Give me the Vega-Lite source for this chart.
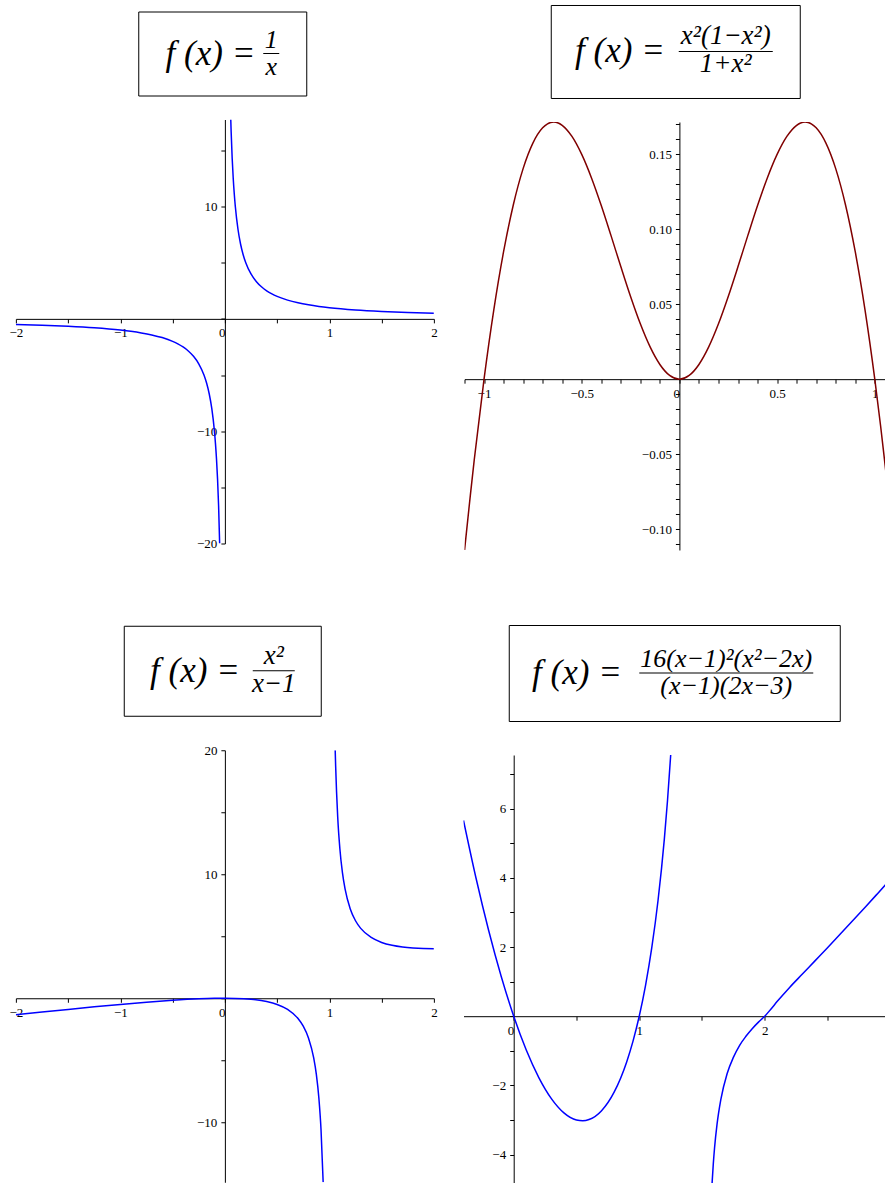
{
  "$schema": "https://vega.github.io/schema/vega-lite/v6.json",
  "background": "white",
  "padding": {"left": 8.5, "top": 3.5, "right": 0, "bottom": 0},
  "config": {
    "view": {"stroke": null},
    "font": "Liberation Serif, Times New Roman, serif",
    "axis": {
      "grid": false, "title": null,
      "domainColor": "#000", "domainWidth": 1,
      "tickColor": "#000", "tickWidth": 1, "tickSize": 4,
      "labelFont": "Liberation Serif, Times New Roman, serif", "labelColor": "#000",
      "labelPadding": 4, "labelFlush": false, "labelOverlap": false, "labelBound": false
    },
    "text": {"font": "Liberation Serif, Times New Roman, serif", "fontStyle": "italic", "color": "#000"}
  },
  "datasets": {
    "recip": [
      {"x": -2, "y": -0.5, "branch": "left"}, {"x": -1.75, "y": -0.5714, "branch": "left"},
      {"x": -1.5, "y": -0.6667, "branch": "left"}, {"x": -1.25, "y": -0.8, "branch": "left"},
      {"x": -1, "y": -1, "branch": "left"}, {"x": -0.9, "y": -1.1111, "branch": "left"},
      {"x": -0.8, "y": -1.25, "branch": "left"}, {"x": -0.7, "y": -1.4286, "branch": "left"},
      {"x": -0.6, "y": -1.6667, "branch": "left"}, {"x": -0.5, "y": -2, "branch": "left"},
      {"x": -0.45, "y": -2.2222, "branch": "left"}, {"x": -0.4, "y": -2.5, "branch": "left"},
      {"x": -0.35, "y": -2.8571, "branch": "left"}, {"x": -0.3, "y": -3.3333, "branch": "left"},
      {"x": -0.25, "y": -4, "branch": "left"}, {"x": -0.2, "y": -5, "branch": "left"},
      {"x": -0.175, "y": -5.7143, "branch": "left"}, {"x": -0.15, "y": -6.6667, "branch": "left"},
      {"x": -0.125, "y": -8, "branch": "left"}, {"x": -0.1, "y": -10, "branch": "left"},
      {"x": -0.09, "y": -11.111, "branch": "left"}, {"x": -0.08, "y": -12.5, "branch": "left"},
      {"x": -0.07, "y": -14.286, "branch": "left"}, {"x": -0.06, "y": -16.667, "branch": "left"},
      {"x": -0.05, "y": -20, "branch": "left"},
      {"x": 0.05634, "y": 17.75, "branch": "right"}, {"x": 0.06, "y": 16.667, "branch": "right"},
      {"x": 0.07, "y": 14.286, "branch": "right"}, {"x": 0.08, "y": 12.5, "branch": "right"},
      {"x": 0.09, "y": 11.111, "branch": "right"}, {"x": 0.1, "y": 10, "branch": "right"},
      {"x": 0.125, "y": 8, "branch": "right"}, {"x": 0.15, "y": 6.6667, "branch": "right"},
      {"x": 0.175, "y": 5.7143, "branch": "right"}, {"x": 0.2, "y": 5, "branch": "right"},
      {"x": 0.25, "y": 4, "branch": "right"}, {"x": 0.3, "y": 3.3333, "branch": "right"},
      {"x": 0.35, "y": 2.8571, "branch": "right"}, {"x": 0.4, "y": 2.5, "branch": "right"},
      {"x": 0.45, "y": 2.2222, "branch": "right"}, {"x": 0.5, "y": 2, "branch": "right"},
      {"x": 0.6, "y": 1.6667, "branch": "right"}, {"x": 0.7, "y": 1.4286, "branch": "right"},
      {"x": 0.8, "y": 1.25, "branch": "right"}, {"x": 0.9, "y": 1.1111, "branch": "right"},
      {"x": 1, "y": 1, "branch": "right"}, {"x": 1.25, "y": 0.8, "branch": "right"},
      {"x": 1.5, "y": 0.6667, "branch": "right"}, {"x": 1.75, "y": 0.5714, "branch": "right"},
      {"x": 2, "y": 0.5, "branch": "right"}
    ],
    "quartic": [
      {"x": -1.0996, "y": -0.114}, {"x": -1.07, "y": -0.077344}, {"x": -1.05, "y": -0.053748},
      {"x": -1, "y": 0}, {"x": -0.95, "y": 0.046252}, {"x": -0.9, "y": 0.085028},
      {"x": -0.85, "y": 0.116397}, {"x": -0.8, "y": 0.140488}, {"x": -0.75, "y": 0.1575},
      {"x": -0.7, "y": 0.167718}, {"x": -0.675, "y": 0.170395}, {"x": -0.6436, "y": 0.171573},
      {"x": -0.62, "y": 0.170932}, {"x": -0.6, "y": 0.169412}, {"x": -0.55, "y": 0.161991},
      {"x": -0.5, "y": 0.15}, {"x": -0.45, "y": 0.134299}, {"x": -0.4, "y": 0.115862},
      {"x": -0.35, "y": 0.095763}, {"x": -0.3, "y": 0.075138}, {"x": -0.25, "y": 0.055147},
      {"x": -0.2, "y": 0.036923}, {"x": -0.15, "y": 0.02151}, {"x": -0.1, "y": 0.009802},
      {"x": -0.05, "y": 0.002488}, {"x": 0, "y": 0},
      {"x": 0.05, "y": 0.002488}, {"x": 0.1, "y": 0.009802}, {"x": 0.15, "y": 0.02151},
      {"x": 0.2, "y": 0.036923}, {"x": 0.25, "y": 0.055147}, {"x": 0.3, "y": 0.075138},
      {"x": 0.35, "y": 0.095763}, {"x": 0.4, "y": 0.115862}, {"x": 0.45, "y": 0.134299},
      {"x": 0.5, "y": 0.15}, {"x": 0.55, "y": 0.161991}, {"x": 0.6, "y": 0.169412},
      {"x": 0.62, "y": 0.170932}, {"x": 0.6436, "y": 0.171573}, {"x": 0.675, "y": 0.170395},
      {"x": 0.7, "y": 0.167718}, {"x": 0.75, "y": 0.1575}, {"x": 0.8, "y": 0.140488},
      {"x": 0.85, "y": 0.116397}, {"x": 0.9, "y": 0.085028}, {"x": 0.95, "y": 0.046252},
      {"x": 1, "y": 0}, {"x": 1.03, "y": -0.031434}, {"x": 1.06, "y": -0.065397}
    ],
    "rational": [
      {"x": -2, "y": -1.3333, "branch": "left"}, {"x": -1.75, "y": -1.1136, "branch": "left"},
      {"x": -1.5, "y": -0.9, "branch": "left"}, {"x": -1.25, "y": -0.6944, "branch": "left"},
      {"x": -1, "y": -0.5, "branch": "left"}, {"x": -0.75, "y": -0.3214, "branch": "left"},
      {"x": -0.5, "y": -0.1667, "branch": "left"}, {"x": -0.25, "y": -0.05, "branch": "left"},
      {"x": -0.1, "y": -0.0091, "branch": "left"}, {"x": 0, "y": 0, "branch": "left"},
      {"x": 0.1, "y": -0.0111, "branch": "left"}, {"x": 0.25, "y": -0.0833, "branch": "left"},
      {"x": 0.4, "y": -0.2667, "branch": "left"}, {"x": 0.5, "y": -0.5, "branch": "left"},
      {"x": 0.6, "y": -0.9, "branch": "left"}, {"x": 0.7, "y": -1.6333, "branch": "left"},
      {"x": 0.75, "y": -2.25, "branch": "left"}, {"x": 0.8, "y": -3.2, "branch": "left"},
      {"x": 0.85, "y": -4.8167, "branch": "left"}, {"x": 0.875, "y": -6.125, "branch": "left"},
      {"x": 0.9, "y": -8.1, "branch": "left"}, {"x": 0.92, "y": -10.58, "branch": "left"},
      {"x": 0.9406, "y": -14.84, "branch": "left"},
      {"x": 1.0557, "y": 20, "branch": "right"}, {"x": 1.06, "y": 18.7267, "branch": "right"},
      {"x": 1.08, "y": 14.58, "branch": "right"}, {"x": 1.1, "y": 12.1, "branch": "right"},
      {"x": 1.125, "y": 10.125, "branch": "right"}, {"x": 1.15, "y": 8.8167, "branch": "right"},
      {"x": 1.2, "y": 7.2, "branch": "right"}, {"x": 1.25, "y": 6.25, "branch": "right"},
      {"x": 1.3, "y": 5.6333, "branch": "right"}, {"x": 1.4, "y": 4.9, "branch": "right"},
      {"x": 1.5, "y": 4.5, "branch": "right"}, {"x": 1.6, "y": 4.2667, "branch": "right"},
      {"x": 1.7, "y": 4.1286, "branch": "right"}, {"x": 1.8, "y": 4.05, "branch": "right"},
      {"x": 1.9, "y": 4.0111, "branch": "right"}, {"x": 2, "y": 4, "branch": "right"}
    ],
    "cubic": [
      {"x": -0.4, "y": 5.659, "branch": "left"}, {"x": -0.3, "y": 3.9867, "branch": "left"},
      {"x": -0.2, "y": 2.4847, "branch": "left"}, {"x": -0.1, "y": 1.155, "branch": "left"},
      {"x": 0, "y": 0, "branch": "left"}, {"x": 0.1, "y": -0.9771, "branch": "left"},
      {"x": 0.2, "y": -1.7723, "branch": "left"}, {"x": 0.3, "y": -2.38, "branch": "left"},
      {"x": 0.4, "y": -2.7927, "branch": "left"}, {"x": 0.5, "y": -3, "branch": "left"},
      {"x": 0.55, "y": -3.0221, "branch": "left"}, {"x": 0.6, "y": -2.9867, "branch": "left"},
      {"x": 0.7, "y": -2.73, "branch": "left"}, {"x": 0.8, "y": -2.1943, "branch": "left"},
      {"x": 0.9, "y": -1.32, "branch": "left"}, {"x": 0.95, "y": -0.7255, "branch": "left"},
      {"x": 1, "y": 0, "branch": "left"}, {"x": 1.05, "y": 0.8867, "branch": "left"},
      {"x": 1.1, "y": 1.98, "branch": "left"}, {"x": 1.15, "y": 3.3514, "branch": "left"},
      {"x": 1.2, "y": 5.12, "branch": "left"}, {"x": 1.225, "y": 6.22, "branch": "left"},
      {"x": 1.2507, "y": 7.55, "branch": "left"},
      {"x": 1.5805, "y": -4.82, "branch": "right"}, {"x": 1.59, "y": -4.27, "branch": "right"},
      {"x": 1.6, "y": -3.81, "branch": "right"}, {"x": 1.62, "y": -3.12, "branch": "right"},
      {"x": 1.65, "y": -2.41, "branch": "right"}, {"x": 1.7, "y": -1.66, "branch": "right"},
      {"x": 1.75, "y": -1.19, "branch": "right"}, {"x": 1.8, "y": -0.84, "branch": "right"},
      {"x": 1.85, "y": -0.58, "branch": "right"}, {"x": 1.9, "y": -0.36, "branch": "right"},
      {"x": 1.95, "y": -0.17, "branch": "right"}, {"x": 2, "y": 0, "branch": "right"},
      {"x": 2.05, "y": 0.21, "branch": "right"}, {"x": 2.1, "y": 0.43, "branch": "right"},
      {"x": 2.2, "y": 0.84, "branch": "right"}, {"x": 2.3, "y": 1.22, "branch": "right"},
      {"x": 2.4, "y": 1.6, "branch": "right"}, {"x": 2.5, "y": 1.98, "branch": "right"},
      {"x": 2.6, "y": 2.37, "branch": "right"}, {"x": 2.7, "y": 2.76, "branch": "right"},
      {"x": 2.8, "y": 3.15, "branch": "right"}, {"x": 2.9, "y": 3.55, "branch": "right"},
      {"x": 2.962, "y": 3.8, "branch": "right"}
    ]
  },
  "spacing": 66.5,
  "vconcat": [
    {
      "hconcat": [
        {
          "vconcat": [
            {
              "width": 168, "height": 84,
              "view": {"stroke": "#000", "strokeWidth": 1},
              "data": {"values": [
                {"slot": "lhs", "part": "lhs", "text": "f (x)  ="},
                {"slot": "frac", "part": "num", "text": "1"},
                {"slot": "frac", "part": "den", "text": "x"}
              ]},
              "encoding": {"x": {"field": "slot", "type": "nominal", "axis": null,
                "scale": {"type": "point", "domain": ["lhs", "frac"], "range": [117, 133], "padding": 0}}},
              "layer": [
                {"transform": [{"filter": "datum.part === 'lhs'"}],
                 "mark": {"type": "text", "align": "right", "baseline": "middle", "fontSize": 35, "font": "Liberation Serif, Times New Roman, serif", "fontStyle": "italic"},
                 "encoding": {"text": {"field": "text"}}},
                {"transform": [{"filter": "datum.part === 'num'"}],
                 "mark": {"type": "text", "align": "center", "baseline": "bottom", "dy": -1, "fontSize": 26, "font": "Liberation Serif, Times New Roman, serif", "fontStyle": "italic"},
                 "encoding": {"text": {"field": "text"}}},
                {"transform": [{"filter": "datum.part === 'den'"}],
                 "mark": {"type": "text", "align": "center", "baseline": "top", "fontSize": 26, "font": "Liberation Serif, Times New Roman, serif", "fontStyle": "italic"},
                 "encoding": {"text": {"field": "text"}}},
                {"transform": [{"filter": "datum.part === 'num'"}],
                 "mark": {"type": "tick", "orient": "horizontal", "size": 16, "thickness": 1, "color": "#000", "opacity": 1}},
                {"transform": [{"filter": "datum.part === 'num'"}],
                 "mark": {"type": "tick", "orient": "horizontal", "size": 86, "thickness": 1, "color": "#fff", "opacity": 0}}
              ]
            },
            {
              "width": 418, "height": 424,
              "data": {"name": "recip"},
              "mark": {"type": "line", "clip": true, "color": "#0000ff", "strokeWidth": 1.5, "interpolate": "monotone"},
              "encoding": {
                "x": {"field": "x", "type": "quantitative", "scale": {"domain": [-2, 2], "nice": false, "zero": false},
                  "axis": {"orient": "bottom", "offset": -224.64, "values": [-2, -1.5, -1, -0.5, 0, 0.5, 1, 1.5, 2],
                    "labelExpr": "datum.value === 0 ? '0\u00a0' : (datum.value % 1 === 0 ? format(datum.value, 'd') : '')",
                    "labelFontSize": {"condition": {"test": "datum.value % 1 !== 0", "value": 0}, "value": 13},
                    "labelAlign": {"condition": {"test": "datum.value === 0", "value": "right"}, "value": "center"}}},
                "y": {"field": "y", "type": "quantitative", "scale": {"domain": [-20, 17.75], "nice": false, "zero": false},
                  "axis": {"orient": "left", "offset": -209, "values": [-20, -15, -10, -5, 0, 5, 10, 15],
                    "labelExpr": "datum.value % 10 === 0 && datum.value !== 0 ? format(datum.value, 'd') : ''",
                    "labelFontSize": {"condition": {"test": "datum.value % 10 !== 0 || datum.value === 0", "value": 0}, "value": 13}}},
                "detail": {"field": "branch", "type": "nominal"}
              }
            }
          ],
          "spacing": 23, "center": true
        },
        {
          "vconcat": [
            {
              "width": 249, "height": 93,
              "view": {"stroke": "#000", "strokeWidth": 1},
              "data": {"values": [
                {"slot": "lhs", "part": "lhs", "text": "f (x)  ="},
                {"slot": "frac", "part": "num", "text": "x²(1−x²)"},
                {"slot": "frac", "part": "den", "text": "1+x²"}
              ]},
              "encoding": {"x": {"field": "slot", "type": "nominal", "axis": null,
                "scale": {"type": "point", "domain": ["lhs", "frac"], "range": [114, 175], "padding": 0}}},
              "layer": [
                {"transform": [{"filter": "datum.part === 'lhs'"}],
                 "mark": {"type": "text", "align": "right", "baseline": "middle", "fontSize": 35, "font": "Liberation Serif, Times New Roman, serif", "fontStyle": "italic"},
                 "encoding": {"text": {"field": "text"}}},
                {"transform": [{"filter": "datum.part === 'num'"}],
                 "mark": {"type": "text", "align": "center", "baseline": "bottom", "dy": -1, "fontSize": 27, "font": "Liberation Serif, Times New Roman, serif", "fontStyle": "italic"},
                 "encoding": {"text": {"field": "text"}}},
                {"transform": [{"filter": "datum.part === 'den'"}],
                 "mark": {"type": "text", "align": "center", "baseline": "top", "fontSize": 27, "font": "Liberation Serif, Times New Roman, serif", "fontStyle": "italic"},
                 "encoding": {"text": {"field": "text"}}},
                {"transform": [{"filter": "datum.part === 'num'"}],
                 "mark": {"type": "tick", "orient": "horizontal", "size": 94, "thickness": 1, "color": "#000", "opacity": 1}},
                {"transform": [{"filter": "datum.part === 'lhs'"}],
                 "mark": {"type": "tick", "orient": "horizontal", "size": 236, "thickness": 1, "color": "#fff", "opacity": 0}}
              ]
            },
            {
              "width": 422, "height": 428,
              "data": {"name": "quartic"},
              "mark": {"type": "line", "clip": true, "color": "#800000", "strokeWidth": 1.5, "interpolate": "monotone"},
              "encoding": {
                "x": {"field": "x", "type": "quantitative", "scale": {"domain": [-1.1, 1.06], "nice": false, "zero": false},
                  "axis": {"orient": "bottom", "offset": -170.84,
                    "values": [-1.1, -1, -0.9, -0.8, -0.7, -0.6, -0.5, -0.4, -0.3, -0.2, -0.1, 0, 0.1, 0.2, 0.3, 0.4, 0.5, 0.6, 0.7, 0.8, 0.9, 1],
                    "labelExpr": "datum.value === 0 ? '0\u00a0' : (abs(datum.value * 2 - round(datum.value * 2)) < 1e-6 ? format(datum.value, '~g') : '')",
                    "labelFontSize": {"condition": {"test": "abs(datum.value * 2 - round(datum.value * 2)) >= 1e-6", "value": 0}, "value": 13},
                    "labelAlign": {"condition": {"test": "datum.value === 0", "value": "right"}, "value": "center"}}},
                "y": {"field": "y", "type": "quantitative", "scale": {"domain": [-0.114, 0.1716], "nice": false, "zero": false},
                  "axis": {"orient": "left", "offset": -214.9,
                    "values": [-0.11, -0.1, -0.09, -0.08, -0.07, -0.06, -0.05, -0.04, -0.03, -0.02, -0.01, 0, 0.01, 0.02, 0.03, 0.04, 0.05, 0.06, 0.07, 0.08, 0.09, 0.1, 0.11, 0.12, 0.13, 0.14, 0.15, 0.16, 0.17],
                    "labelExpr": "abs(datum.value * 20 - round(datum.value * 20)) < 1e-6 && abs(datum.value) > 1e-9 ? format(datum.value, '.2f') : ''",
                    "labelFontSize": {"condition": [
                      {"test": "abs(datum.value + 0.11) < 1e-9", "value": 26},
                      {"test": "abs(datum.value * 20 - round(datum.value * 20)) >= 1e-6 || abs(datum.value) < 1e-9", "value": 0}
                    ], "value": 13}}}
              }
            }
          ],
          "spacing": 23, "center": true
        }
      ],
      "spacing": 26, "center": true
    },
    {
      "hconcat": [
        {
          "vconcat": [
            {
              "width": 197, "height": 90,
              "view": {"stroke": "#000", "strokeWidth": 1},
              "data": {"values": [
                {"slot": "lhs", "part": "lhs", "text": "f (x)  ="},
                {"slot": "frac", "part": "num", "text": "x²"},
                {"slot": "frac", "part": "den", "text": "x−1"}
              ]},
              "encoding": {"x": {"field": "slot", "type": "nominal", "axis": null,
                "scale": {"type": "point", "domain": ["lhs", "frac"], "range": [116, 150], "padding": 0}}},
              "layer": [
                {"transform": [{"filter": "datum.part === 'lhs'"}],
                 "mark": {"type": "text", "align": "right", "baseline": "middle", "fontSize": 35, "font": "Liberation Serif, Times New Roman, serif", "fontStyle": "italic"},
                 "encoding": {"text": {"field": "text"}}},
                {"transform": [{"filter": "datum.part === 'num'"}],
                 "mark": {"type": "text", "align": "center", "baseline": "bottom", "dy": -1, "fontSize": 27, "font": "Liberation Serif, Times New Roman, serif", "fontStyle": "italic"},
                 "encoding": {"text": {"field": "text"}}},
                {"transform": [{"filter": "datum.part === 'den'"}],
                 "mark": {"type": "text", "align": "center", "baseline": "top", "fontSize": 27, "font": "Liberation Serif, Times New Roman, serif", "fontStyle": "italic"},
                 "encoding": {"text": {"field": "text"}}},
                {"transform": [{"filter": "datum.part === 'num'"}],
                 "mark": {"type": "tick", "orient": "horizontal", "size": 42, "thickness": 1, "color": "#000", "opacity": 1}},
                {"transform": [{"filter": "datum.part === 'num'"}],
                 "mark": {"type": "tick", "orient": "horizontal", "size": 110, "thickness": 1, "color": "#fff", "opacity": 0}}
              ]
            },
            {
              "width": 418, "height": 432,
              "data": {"name": "rational"},
              "mark": {"type": "line", "clip": true, "color": "#0000ff", "strokeWidth": 1.5, "interpolate": "monotone"},
              "encoding": {
                "x": {"field": "x", "type": "quantitative", "scale": {"domain": [-2, 2], "nice": false, "zero": false},
                  "axis": {"orient": "bottom", "offset": -184, "values": [-2, -1.5, -1, -0.5, 0, 0.5, 1, 1.5, 2],
                    "labelExpr": "datum.value === 0 ? '0\u00a0' : (datum.value % 1 === 0 ? format(datum.value, 'd') : '')",
                    "labelFontSize": {"condition": {"test": "datum.value % 1 !== 0", "value": 0}, "value": 13},
                    "labelAlign": {"condition": {"test": "datum.value === 0", "value": "right"}, "value": "center"}}},
                "y": {"field": "y", "type": "quantitative", "scale": {"domain": [-14.84, 20], "nice": false, "zero": false},
                  "axis": {"orient": "left", "offset": -209, "values": [-10, -5, 0, 5, 10, 15, 20],
                    "labelExpr": "datum.value % 10 === 0 && datum.value !== 0 ? format(datum.value, 'd') : ''",
                    "labelFontSize": {"condition": {"test": "datum.value % 10 !== 0 || datum.value === 0", "value": 0}, "value": 13}}},
                "detail": {"field": "branch", "type": "nominal"}
              }
            }
          ],
          "spacing": 27.5, "center": true
        },
        {
          "vconcat": [
            {
              "width": 331, "height": 96,
              "view": {"stroke": "#000", "strokeWidth": 1},
              "data": {"values": [
                {"slot": "lhs", "part": "lhs", "text": "f (x)  ="},
                {"slot": "frac", "part": "num", "text": "16(x−1)²(x²−2x)"},
                {"slot": "frac", "part": "den", "text": "(x−1)(2x−3)"}
              ]},
              "encoding": {"x": {"field": "slot", "type": "nominal", "axis": null,
                "scale": {"type": "point", "domain": ["lhs", "frac"], "range": [113, 217.5], "padding": 0}}},
              "layer": [
                {"transform": [{"filter": "datum.part === 'lhs'"}],
                 "mark": {"type": "text", "align": "right", "baseline": "middle", "fontSize": 35, "font": "Liberation Serif, Times New Roman, serif", "fontStyle": "italic"},
                 "encoding": {"text": {"field": "text"}}},
                {"transform": [{"filter": "datum.part === 'num'"}],
                 "mark": {"type": "text", "align": "center", "baseline": "bottom", "dy": -1, "fontSize": 26, "font": "Liberation Serif, Times New Roman, serif", "fontStyle": "italic"},
                 "encoding": {"text": {"field": "text"}}},
                {"transform": [{"filter": "datum.part === 'den'"}],
                 "mark": {"type": "text", "align": "center", "baseline": "top", "fontSize": 26, "font": "Liberation Serif, Times New Roman, serif", "fontStyle": "italic"},
                 "encoding": {"text": {"field": "text"}}},
                {"transform": [{"filter": "datum.part === 'num'"}],
                 "mark": {"type": "tick", "orient": "horizontal", "size": 174, "thickness": 1, "color": "#000", "opacity": 1}},
                {"transform": [{"filter": "datum.part === 'lhs'"}],
                 "mark": {"type": "tick", "orient": "horizontal", "size": 238, "thickness": 1, "color": "#fff", "opacity": 0}}
              ]
            },
            {
              "width": 422, "height": 428,
              "data": {"name": "cubic"},
              "mark": {"type": "line", "clip": true, "color": "#0000ff", "strokeWidth": 1.5, "interpolate": "monotone"},
              "encoding": {
                "x": {"field": "x", "type": "quantitative", "scale": {"domain": [-0.4, 2.962], "nice": false, "zero": false},
                  "axis": {"orient": "bottom", "offset": -166.8, "values": [0, 0.5, 1, 1.5, 2, 2.5],
                    "labelExpr": "datum.value === 0 ? '0\u00a0' : (datum.value % 1 === 0 ? format(datum.value, 'd') : '')",
                    "labelFontSize": {"condition": {"test": "datum.value % 1 !== 0", "value": 0}, "value": 13},
                    "labelAlign": {"condition": {"test": "datum.value === 0", "value": "right"}, "value": "center"}}},
                "y": {"field": "y", "type": "quantitative", "scale": {"domain": [-4.82, 7.55], "nice": false, "zero": false},
                  "axis": {"orient": "left", "offset": -50.2, "values": [-4, -3, -2, -1, 0, 1, 2, 3, 4, 5, 6, 7],
                    "labelExpr": "datum.value % 2 === 0 && datum.value !== 0 ? format(datum.value, 'd') : ''",
                    "labelFontSize": {"condition": {"test": "datum.value % 2 !== 0 || datum.value === 0", "value": 0}, "value": 13}}},
                "detail": {"field": "branch", "type": "nominal"}
              }
            }
          ],
          "spacing": 33, "center": true
        }
      ],
      "spacing": 26, "center": true
    }
  ]
}
